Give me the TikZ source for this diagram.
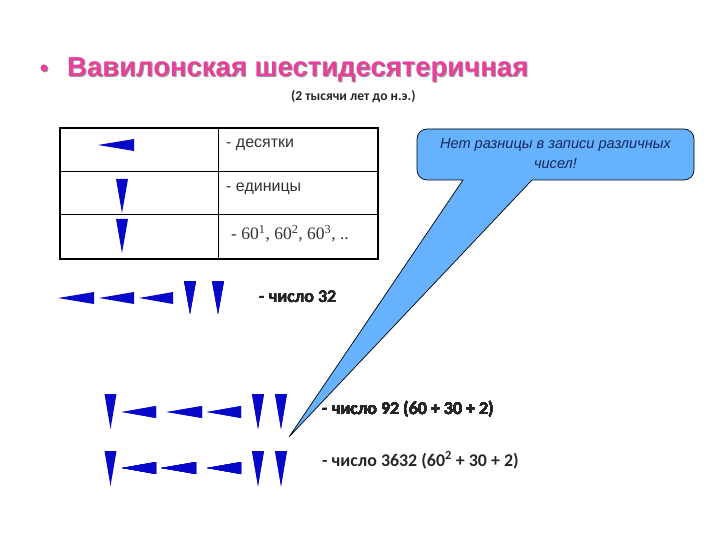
\documentclass[tikz,border=0pt]{standalone}
\usepackage{fontspec}
\setmainfont{Liberation Sans}
\newfontfamily\carlitofont{Carlito}
\newfontfamily\timesfont{Liberation Serif}
\definecolor{wedgeblue}{HTML}{0808C8}
\definecolor{calloutblue}{HTML}{66B2FF}
\definecolor{titlepink}{HTML}{E8409A}
\definecolor{calloutink}{HTML}{14285A}
\tikzset{
    wedge/.style={fill=wedgeblue,draw=none},
    grid line/.style={line width=1pt,black},
    grid frame/.style={line width=1.6pt,black},
    title label/.style={anchor=base west,inner sep=0pt,font=\bfseries\fontsize{27.5}{32}\selectfont},
    note label/.style={anchor=base west,inner sep=0pt,font=\carlitofont\bfseries\fontsize{17.9}{20}\selectfont,black!85},
    cell label/.style={anchor=base west,inner sep=0pt,font=\fontsize{16}{18}\selectfont,black!80},
    callout label/.style={anchor=base,inner sep=0pt,font=\itshape\fontsize{14.6}{17}\selectfont,calloutink}
}
\newcommand{\tenmark}[3]{\fill[wedge] (#1,#3) -- (#2,#3-6) -- (#2,#3+6) -- cycle;}
\newcommand{\unitmark}[3]{\fill[wedge] (#1-6,#2) -- (#1+6,#2) -- (#1,#3) -- cycle;}
\begin{document}
\begin{tikzpicture}[x=1pt,y=-1pt]
        \useasboundingbox (0,0) rectangle (720,540);

        % Draw title.
        \node (titleshadow) at (68,78) [title label,gray!80]{Вавилонская шестидесятеричная};
        \node (titletext) at (67,77) [title label,titlepink]{Вавилонская шестидесятеричная};
        \fill[gray!80] (45,69) circle [radius=3.5];
        \fill[titlepink] (44,68) circle [radius=3.5];
        \node (subtitle) at (291,101) [anchor=base west,inner sep=0pt,font=\carlitofont\bfseries\fontsize{13.6}{15}\selectfont,black!85]{(2 тысячи лет до н.э.)};

        % Draw table.
        \draw[grid line] (218,128) -- (218,259);
        \draw[grid line] (60,171.5) -- (378,171.5);
        \draw[grid line] (60,215) -- (378,215);
        \draw[grid frame] (60,128) rectangle (378,259);
        \node (tenlabel) at (226,148) [cell label]{- десятки};
        \node (unitlabel) at (226,192) [cell label]{- единицы};
        \node (powerlabel) at (231,240) [anchor=base west,inner sep=0pt,font=\timesfont\fontsize{17.5}{20}\selectfont,black!80]{- 60\textsuperscript{1}, 60\textsuperscript{2}, 60\textsuperscript{3}, ..};

        % Draw table marks.
        \tenmark{98}{134}{145}
        \unitmark{122}{179}{213}
        \unitmark{122}{219}{253}

        % Draw callout.
        \draw[fill=calloutblue,line width=.7pt]
            (427,129) -- (684,129) .. controls (689.5,129) and (694,133.5) .. (694,139)
            -- (694,170) .. controls (694,175.5) and (689.5,180) .. (684,180)
            -- (532,180) -- (289,437) -- (463,180)
            -- (427,180) .. controls (421.5,180) and (417,175.5) .. (417,170)
            -- (417,139) .. controls (417,133.5) and (421.5,129) .. (427,129) -- cycle;
        \node (calloutline) at (555.5,149) [callout label]{Нет разницы в записи различных};
        \node (calloutend) at (555.5,169) [callout label]{чисел!};

        % Draw number 32.
        \foreach \A/\B in {58/94,99/134,139/173}
            \tenmark{\A}{\B}{298}
        \foreach \C in {190,218}
            \unitmark{\C}{281}{314}
        \node (numberone) at (259,302.5) [note label]{- число 32};

        % Draw numbers 92 and 3632.
        \foreach \Y in {394,451}
            \unitmark{110.5}{\Y}{\Y+35}
        \foreach \C in {258,281}{
            \unitmark{\C}{394}{429}
            \unitmark{\C}{451}{486}
        }
        \foreach \A/\B in {122/156,167/202,207/241}
            \tenmark{\A}{\B}{412}
        \foreach \A/\B in {122/156,161/196,207/241}
            \tenmark{\A}{\B}{468}
        \node (numbertwo) at (322,414.5) [note label]{- число 92 (60 + 30 + 2)};
        \node (numberthree) at (322,466) [note label]{- число 3632 (60\textsuperscript{2} + 30 + 2)};
\end{tikzpicture}
\end{document}
